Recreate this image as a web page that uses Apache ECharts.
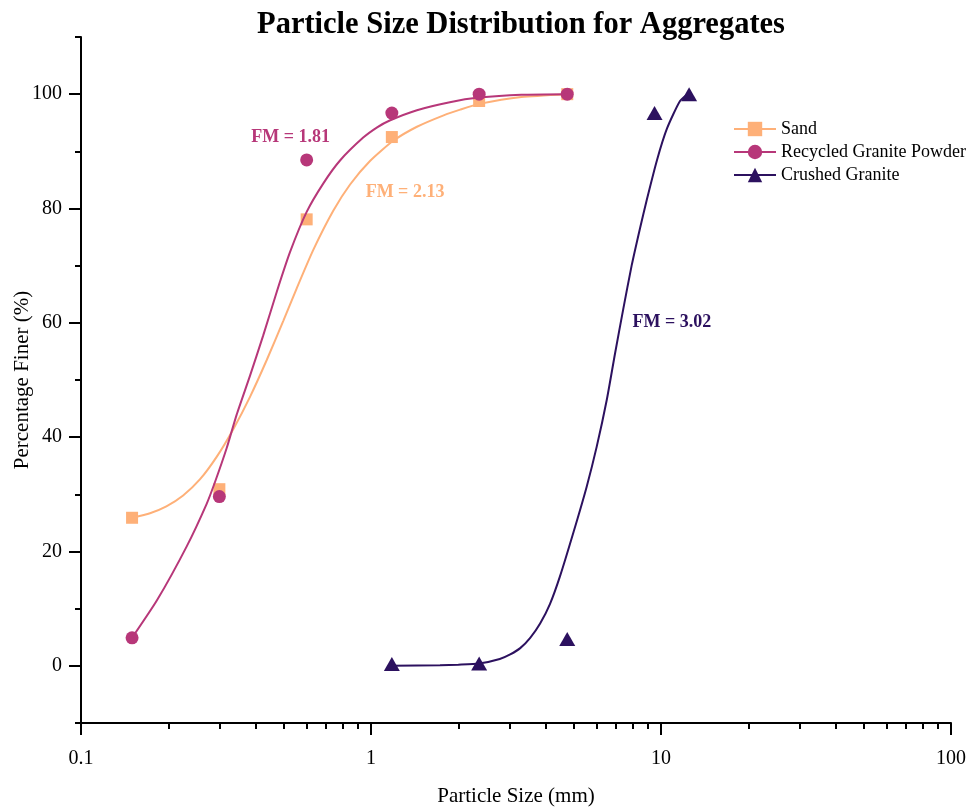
<!DOCTYPE html>
<html>
<head>
<meta charset="utf-8">
<script src="https://cdn.jsdelivr.net/npm/echarts@6/dist/echarts.min.js"></script>
<style>
  html, body { margin: 0; padding: 0; background: #fff; }
  #chart { width: 978px; height: 807px; }
</style>
</head>
<body>
<div id="chart"></div>
<script>
// measured points (sieve size mm, % finer)
const sandPoints = [[0.15, 25.9], [0.3, 30.9], [0.6, 78.1], [1.18, 92.5], [2.36, 98.8], [4.75, 100]];
const granitePowderPoints = [[0.15, 4.9], [0.3, 29.6], [0.6, 88.5], [1.18, 96.7], [2.36, 100], [4.75, 100]];
const crushedPoints = [[1.18, 0.3], [2.36, 0.4], [4.75, 4.7], [9.5, 96.7], [12.5, 100]];

// fitted curves
const sandCurve = [[0.15, 25.9], [0.173, 26.7], [0.197, 27.9], [0.225, 29.8], [0.257, 32.6], [0.294, 36.6],
  [0.335, 41.4], [0.383, 47.1], [0.437, 53.5], [0.498, 60.3], [0.554, 66.0], [0.633, 72.8], [0.741, 79.6],
  [0.847, 84.2], [0.992, 88.3], [1.19, 91.8], [1.44, 94.3], [1.78, 96.3], [2.03, 97.3], [2.36, 98.3],
  [3.3, 99.5], [4.75, 100]];
const granitePowderCurve = [[0.15, 4.9], [0.183, 11.5], [0.2315, 20.9], [0.271, 28.3], [0.29, 32.2],
  [0.318, 38.1], [0.344, 43.9], [0.383, 50.8], [0.425, 57.8], [0.473, 65.4], [0.526, 72.4], [0.6, 79.4],
  [0.685, 84.4], [0.782, 88.4], [0.94, 92.4], [1.05, 94.2], [1.16, 95.4], [1.44, 97.2], [1.87, 98.6],
  [2.36, 99.4], [3.3, 99.9], [4.75, 100]];
const crushedCurve = [[1.18, 0], [1.73, 0.1], [2.0, 0.2], [2.36, 0.4], [2.78, 1.2], [3.02, 2.0], [3.27, 3.1],
  [3.54, 4.9], [3.83, 7.4], [4.14, 10.8], [4.48, 15.6], [5.0, 23.5], [5.54, 31.3], [6.0, 38.3], [6.5, 46.5],
  [6.94, 54.6], [7.41, 62.4], [7.92, 70.0], [8.47, 76.6], [8.93, 81.5], [9.69, 88.5], [10.49, 94.0],
  [11.63, 98.8], [12.5, 100.2]];

// fineness modulus notes
const fmLabels = ['FM = 1.81', 'FM = 2.13', 'FM = 3.02'];
const fmAnchors = [[0.528, 92.5], [1.31, 82.8], [10.9, 60.1]];

const seriesNames = ['Sand', 'Recycled Granite Powder', 'Crushed Granite'];
const colors = ['#feb078', '#b73779', '#2c115f'];
const fmColors = ['#b73779', '#feb078', '#2c115f'];

const yTickValues = [0, 20, 40, 60, 80, 100];
const yMinorTicks = [-10, 10, 30, 50, 70, 90, 110];
const xMinorTicks = [0.2, 0.3, 0.4, 0.5, 0.6, 0.7, 0.8, 0.9, 2, 3, 4, 5, 6, 7, 8, 9,
  20, 30, 40, 50, 60, 70, 80, 90];

const font = 'Liberation Serif';
const chart = echarts.init(document.getElementById('chart'));

function curveSeries(i, data, symbol, z) {
  return {
    name: seriesNames[i], type: 'line', data: data, smooth: 0.2,
    symbol: symbol, showSymbol: false, z: z, silent: true,
    lineStyle: { color: colors[i], width: 2 },
    itemStyle: { color: colors[i] }
  };
}
function pointSeries(i, data, symbol, size, z) {
  return {
    name: seriesNames[i], type: 'scatter', data: data, symbol: symbol, symbolSize: size, z: z,
    itemStyle: { color: colors[i], opacity: 1 }
  };
}

const option = {
  backgroundColor: '#fff',
  animation: false,
  title: {
    text: 'Particle Size Distribution for Aggregates',
    left: 257, top: 10, padding: 0,
    textStyle: { fontFamily: font, fontSize: 30.5, fontWeight: 'bold', color: '#000' }
  },
  legend: {
    data: seriesNames,
    orient: 'vertical', left: 733, top: 120, padding: 0,
    itemWidth: 42, itemHeight: 18, itemGap: 5,
    textStyle: { fontFamily: font, fontSize: 18, color: '#000' }
  },
  grid: { left: 81, right: 27, top: 37, bottom: 84, outerBoundsMode: 'none', containLabel: false },
  xAxis: [{
    type: 'log', logBase: 10, min: 0.1, max: 100,
    name: 'Particle Size (mm)', nameLocation: 'middle', nameGap: 63,
    nameTextStyle: { fontFamily: font, fontSize: 21, color: '#000' },
    axisLine: { onZero: false, lineStyle: { color: '#000', width: 2 } },
    axisTick: { inside: false, length: 12, lineStyle: { color: '#000', width: 2 } },
    axisLabel: {
      fontFamily: font, fontSize: 20, color: '#000', margin: 26,
      formatter: function (v) { return String(v); }
    },
    splitLine: { show: false }
  }, {
    type: 'log', logBase: 10, min: 0.1, max: 100, position: 'bottom',
    axisLine: { show: false, onZero: false },
    axisTick: { show: true, length: 6, customValues: xMinorTicks, lineStyle: { color: '#000', width: 2 } },
    axisLabel: { show: false },
    splitLine: { show: false }
  }],
  yAxis: [{
    type: 'value', min: -10, max: 110, interval: 10,
    name: 'Percentage Finer (%)', nameLocation: 'middle', nameGap: 48, nameMoveOverlap: false,
    nameTextStyle: { fontFamily: font, fontSize: 21, color: '#000' },
    axisLine: { show: true, onZero: false, lineStyle: { color: '#000', width: 2 } },
    axisTick: { show: true, length: 12, customValues: yTickValues, lineStyle: { color: '#000', width: 2 } },
    axisLabel: { fontFamily: font, fontSize: 20, color: '#000', margin: 19, customValues: yTickValues },
    splitLine: { show: false }
  }, {
    type: 'value', min: -10, max: 110, interval: 10, position: 'left',
    axisLine: { show: false, onZero: false },
    axisTick: { show: true, length: 6, customValues: yMinorTicks, lineStyle: { color: '#000', width: 2 } },
    axisLabel: { show: false },
    splitLine: { show: false }
  }],
  series: [
    curveSeries(0, sandCurve, 'rect', 3),
    pointSeries(0, sandPoints, 'rect', 12, 2),
    curveSeries(1, granitePowderCurve, 'circle', 5),
    pointSeries(1, granitePowderPoints, 'circle', 13, 4),
    curveSeries(2, crushedCurve, 'triangle', 7),
    pointSeries(2, crushedPoints, 'triangle', [16, 14], 6),
    {
      type: 'scatter', symbolSize: 0, silent: true, z: 8,
      itemStyle: { opacity: 1 },
      data: fmAnchors.map(function (p, i) {
        return {
          value: p,
          label: {
            show: true, position: 'inside', formatter: fmLabels[i], opacity: 1,
            fontFamily: font, fontSize: 18, fontWeight: 'bold', color: fmColors[i]
          }
        };
      })
    }
  ]
};
chart.setOption(option);
</script>
</body>
</html>
